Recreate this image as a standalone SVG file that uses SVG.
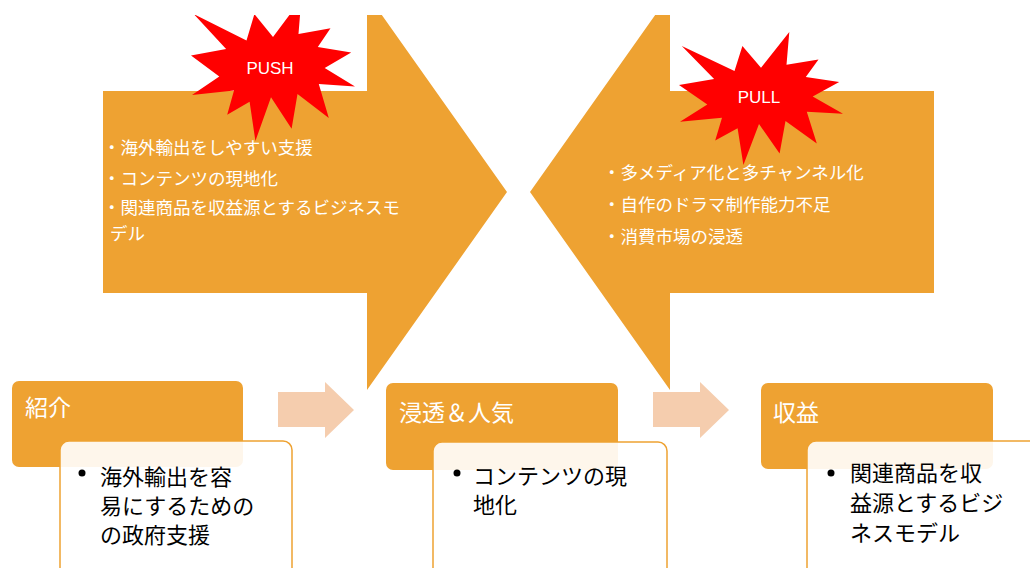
<svg xmlns="http://www.w3.org/2000/svg" width="1030" height="568" viewBox="0 0 1030 568">
  <defs>
    <clipPath id="topclip"><rect x="0" y="15" width="1030" height="553"/></clipPath>
  </defs>
  <style>
    .big { fill: #EEA232; }
    .star { fill: #FF0000; }
    .chev { fill: #F5CDAE; }
    .hdr { fill: #EEA232; }
    .card { fill: #FFFFFF; fill-opacity: 0.9; stroke: #EEA232; stroke-width: 1.5; }
    .wt { fill: #FFFFFF; font-family: "Noto Sans CJK JP", "Noto Sans", sans-serif; font-size: 17.5px; }
    .lbl { fill: #FFFFFF; font-family: "Liberation Sans", "Noto Sans", sans-serif; font-size: 17px; text-anchor: middle; }
    .ht { fill: #FFFFFF; font-family: "Noto Sans CJK JP", sans-serif; font-size: 23px; }
    .bt { fill: #000000; font-family: "Noto Sans CJK JP", sans-serif; font-size: 22px; }
  </style>

  <g id="push" clip-path="url(#topclip)">
    <polygon class="big" points="103,91 367,91 367,-6 507,192 367,390 367,293 103,293"/>
    <polygon class="star" points="273,37.1 301.3,-1 298.5,34 330.5,28.3 317.8,47.1 351.2,52.5 324.7,67.9 355,86.4 318.8,84.1 328.8,118 297.5,94 291.6,128.7 271,97.2 255.4,141 249.6,101.7 227.2,114.8 234,90.6 192,94.9 219.3,76.4 191,55.6 226.1,49.1 193.8,14.1 246.5,40.5 254.4,14.1"/>
    <text class="lbl" x="270" y="74">PUSH</text>
    <text class="wt" x="103" y="154">・海外輸出をしやすい支援</text>
    <text class="wt" x="103" y="185">・コンテンツの現地化</text>
    <text class="wt" x="103" y="214">・関連商品を収益源とするビジネスモ</text>
    <text class="wt" x="110" y="240">デル</text>
  </g>

  <g id="pull" clip-path="url(#topclip)">
    <polygon class="big" points="934,91 670,91 670,-6 530,192 670,390 670,293 934,293"/>
    <polygon class="star" points="761,67.7 789.3,32 786.5,64.8 818.5,59.4 805.8,77 839.2,82.1 812.7,96.5 843,113.8 806.8,111.7 816.8,143.4 785.5,121 779.6,153.5 759,124 743.4,165 737.6,128.2 715.2,140.5 722,117.8 680,121.8 707.3,104.5 679,85 714.1,78.9 681.8,46.1 734.5,70.9 742.4,46.1"/>
    <text class="lbl" x="759" y="103">PULL</text>
    <text class="wt" x="603" y="179">・多メディア化と多チャンネル化</text>
    <text class="wt" x="603" y="211">・自作のドラマ制作能力不足</text>
    <text class="wt" x="603" y="243">・消費市場の浸透</text>
  </g>

  <g id="connectors">
    <polygon class="chev" points="278,392 325,392 325,382 354,410 325,438 325,427 278,427"/>
    <polygon class="chev" points="653,392 700,392 700,382 729,410 700,438 700,427 653,427"/>
  </g>

  <g id="stage1">
    <rect class="hdr" x="12" y="381" width="231" height="86" rx="7"/>
    <text class="ht" x="25" y="416">紹介</text>
    <rect class="card" x="60" y="441" width="232" height="140" rx="9"/>
    <circle cx="82" cy="473" r="3.5" fill="#000"/>
    <text class="bt" x="100" y="485">海外輸出を容</text>
    <text class="bt" x="100" y="514">易にするための</text>
    <text class="bt" x="100" y="543">の政府支援</text>
  </g>

  <g id="stage2">
    <rect class="hdr" x="386" y="383" width="232" height="87" rx="7"/>
    <text class="ht" x="399" y="421">浸透＆人気</text>
    <rect class="card" x="433" y="442" width="234" height="140" rx="9"/>
    <circle cx="457" cy="473" r="3.5" fill="#000"/>
    <text class="bt" x="473" y="484">コンテンツの現</text>
    <text class="bt" x="473" y="513">地化</text>
  </g>

  <g id="stage3">
    <rect class="hdr" x="761" y="383" width="232" height="86" rx="7"/>
    <text class="ht" x="773" y="421">収益</text>
    <rect class="card" x="807" y="441" width="240" height="140" rx="9"/>
    <circle cx="831" cy="473" r="3.5" fill="#000"/>
    <text class="bt" x="850" y="481">関連商品を収</text>
    <text class="bt" x="850" y="511">益源とするビジ</text>
    <text class="bt" x="850" y="541">ネスモデル</text>
  </g>
</svg>
